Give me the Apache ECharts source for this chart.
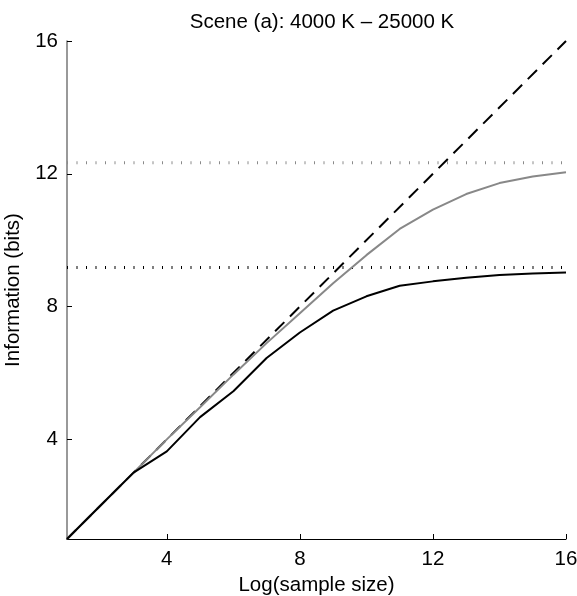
<!DOCTYPE html>
<html>
<head>
<meta charset="utf-8">
<script src="https://cdn.jsdelivr.net/npm/echarts@6/dist/echarts.min.js"></script>
<style>
html,body{margin:0;padding:0;background:#fff;}
#chart{width:577px;height:596px;}
</style>
</head>
<body>
<div id="chart"></div>
<script>
// Data
var xValues = [1, 2, 3, 4, 5, 6, 7, 8, 9, 10, 11, 12, 13, 14, 15, 16];
var blackValues = [1, 2, 3, 3.64, 4.67, 5.45, 6.45, 7.22, 7.88, 8.31, 8.63, 8.76, 8.87, 8.95, 9.0, 9.03];
var grayValues = [1, 2, 3, 4.0, 4.97, 5.95, 6.9, 7.8, 8.7, 9.55, 10.34, 10.92, 11.39, 11.72, 11.92, 12.05];
var identityValues = [1, 16];
var identityX = [1, 16];
var grayLimit = 12.33;
var blackLimit = 9.18;
var xTicks = [4, 8, 12, 16];
var yTicks = [4, 8, 12, 16];
var titleText = 'Scene (a): 4000 K \u2013 25000 K';
var xName = 'Log(sample size)';
var yName = 'Information (bits)';

function pairs(xs, ys) { return xs.map(function (x, i) { return [x, ys[i]]; }); }

var FONT = '"Liberation Sans", Arial, Helvetica, sans-serif';
var FS = 20.5;
var chart = echarts.init(document.getElementById('chart'), null, {renderer: 'canvas'});
chart.setOption({
  animation: false,
  backgroundColor: '#fff',
  title: {
    text: titleText,
    left: 317, top: 7, textAlign: 'center',
    textStyle: {fontFamily: FONT, fontSize: FS, fontWeight: 'normal', color: '#000'}
  },
  grid: {left: 67, right: 11, top: 41, bottom: 57, containLabel: false, outerBoundsMode: 'none'},
  xAxis: {
    type: 'value', min: 1, max: 16,
    name: xName, nameLocation: 'middle', nameGap: 29,
    nameTextStyle: {fontFamily: FONT, fontSize: FS, color: '#000', verticalAlign: 'top'},
    axisLine: {show: true, lineStyle: {color: '#000', width: 1}},
    axisTick: {show: true, inside: true, length: 5, customValues: xTicks, lineStyle: {color: '#000'}},
    axisLabel: {customValues: xTicks, fontFamily: FONT, fontSize: FS, color: '#000', margin: 10},
    splitLine: {show: false}
  },
  yAxis: {
    type: 'value', min: 1, max: 16,
    name: yName, nameLocation: 'middle', nameGap: 32, nameRotate: 90,
    nameTextStyle: {fontFamily: FONT, fontSize: FS, color: '#000'},
    axisLine: {show: true, lineStyle: {color: '#777', width: 1.5}},
    axisTick: {show: true, inside: true, length: 5, customValues: yTicks, lineStyle: {color: '#000'}},
    axisLabel: {customValues: yTicks, fontFamily: FONT, fontSize: FS, color: '#000', margin: 9},
    splitLine: {show: false}
  },
  series: [
    {
      type: 'line', data: [[1, grayLimit], [16, grayLimit]], showSymbol: false, symbol: 'none',
      lineStyle: {color: '#8a8a8a', width: 3, type: [1, 8.5], cap: 'butt'}, z: 1
    },
    {
      type: 'line', data: [[1, blackLimit], [16, blackLimit]], showSymbol: false, symbol: 'none',
      lineStyle: {color: '#000', width: 3, type: [1, 8.5], cap: 'butt'}, z: 1
    },
    {
      type: 'line', data: pairs(identityX, identityValues), showSymbol: false, symbol: 'none',
      lineStyle: {color: '#000', width: 2, type: [13, 8]}, z: 2
    },
    {
      type: 'line', data: pairs(xValues, grayValues), showSymbol: false, symbol: 'none',
      lineStyle: {color: '#888', width: 2}, z: 3
    },
    {
      type: 'line', data: pairs(xValues, blackValues), showSymbol: false, symbol: 'none',
      lineStyle: {color: '#000', width: 2}, z: 4
    }
  ]
});
</script>
</body>
</html>
